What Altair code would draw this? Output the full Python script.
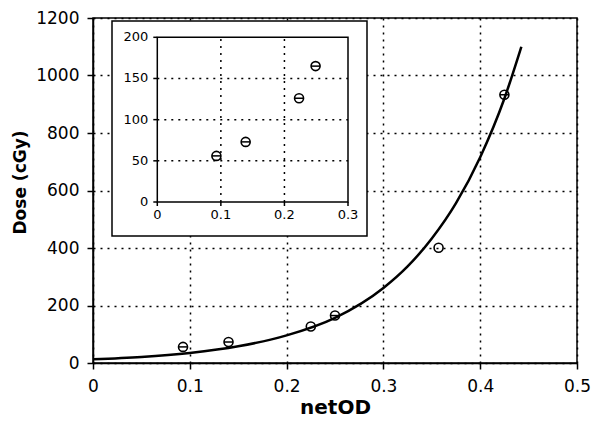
import altair as alt
import pandas as pd

# ---- data ----
net_od = [0.093, 0.140, 0.225, 0.250, 0.357, 0.425]
dose = [56, 73, 127, 165, 401, 933]
has_bar = [1, 1, 0, 1, 0, 1]

fit_od = [0.0, 0.05, 0.10, 0.15, 0.20, 0.25, 0.30, 0.325, 0.35, 0.375, 0.40, 0.425, 0.4425]
fit_dose = [13, 21, 35, 58, 96, 157, 261, 336, 433, 556, 716, 920, 1100]

inset_od = [0.093, 0.139, 0.223, 0.249]
inset_dose = [56, 73, 126, 165]

main_x_ticks = [0, 0.1, 0.2, 0.3, 0.4, 0.5]
main_y_ticks = [0, 200, 400, 600, 800, 1000, 1200]
inset_x_ticks = [0, 0.1, 0.2, 0.3]
inset_y_ticks = [0, 50, 100, 150, 200]

FONT = "DejaVu Sans"

pts_df = pd.DataFrame({"od": net_od, "dose": dose, "bar": has_bar})
fit_df = pd.DataFrame({"od": fit_od, "dose": fit_dose})
ins_df = pd.DataFrame({"iod": inset_od, "idose": inset_dose})
ixt_df = pd.DataFrame({"v": inset_x_ticks})
iyt_df = pd.DataFrame({"v": inset_y_ticks})
ixg_df = pd.DataFrame({"v": inset_x_ticks[1:-1]})
iyg_df = pd.DataFrame({"v": inset_y_ticks[1:-1]})
one_df = pd.DataFrame({"k": [0]})

# ---- main panel ----
x_scale = alt.Scale(domain=[main_x_ticks[0], main_x_ticks[-1]], nice=False, zero=False)
y_scale = alt.Scale(domain=[main_y_ticks[0], main_y_ticks[-1]], nice=False)

x_axis = alt.Axis(values=main_x_ticks, format=".1~f", title="netOD",
                  titleY=50, titleBaseline="alphabetic", titleFontSize=20,
                  labelPadding=9)
y_axis = alt.Axis(values=main_y_ticks, format="d", title="Dose (cGy)",
                  titleX=-64, titleY=164, titleAlign="center", titleFontSize=17,
                  labelPadding=8)

curve = alt.Chart(fit_df).mark_line(
    color="black", strokeWidth=2.5, interpolate="monotone"
).encode(
    x=alt.X("od:Q", scale=x_scale, axis=x_axis),
    y=alt.Y("dose:Q", scale=y_scale, axis=y_axis),
)

circles = alt.Chart(pts_df).mark_point(
    shape="circle", size=81, color="black", strokeWidth=1.6, filled=False, opacity=1
).encode(x="od:Q", y="dose:Q")

bars = alt.Chart(pts_df).transform_filter("datum.bar == 1").mark_point(
    shape="M-1,0L1,0", size=81, color="black", strokeWidth=1.5, filled=False, opacity=1
).encode(x="od:Q", y="dose:Q")

main = alt.layer(curve, circles, bars)

# ---- inset panel (own scales placed inside the plot area) ----
ix = alt.Scale(domain=[inset_x_ticks[0], inset_x_ticks[-1]], range=[64.3, 255], nice=False, zero=False)
iy = alt.Scale(domain=[inset_y_ticks[0], inset_y_ticks[-1]], range=[184, 19.3], nice=False)

box = alt.Chart(one_df).mark_rect(fill="white", stroke="black", strokeWidth=1.5).encode(
    x=alt.value(19), x2=alt.value(274), y=alt.value(3), y2=alt.value(218)
)

X0 = alt.XDatum(inset_x_ticks[0], scale=ix, axis=None)
X1 = alt.X2Datum(inset_x_ticks[-1])
Y0 = alt.YDatum(inset_y_ticks[0], scale=iy, axis=None)
Y1 = alt.Y2Datum(inset_y_ticks[-1])

vgrid = alt.Chart(ixg_df).mark_rule(color="black", strokeWidth=1.5, strokeDash=[2, 5]).encode(
    x=alt.X("v:Q", scale=ix, axis=None), y=Y0, y2=Y1
)
hgrid = alt.Chart(iyg_df).mark_rule(color="black", strokeWidth=1.5, strokeDash=[2, 5]).encode(
    y=alt.Y("v:Q", scale=iy, axis=None), x=X0, x2=X1
)
frame = alt.Chart(one_df).mark_rect(fill="transparent", stroke="black", strokeWidth=1.5).encode(
    x=X0, x2=X1, y=Y0, y2=Y1
)
xticks = alt.Chart(ixt_df).mark_rule(color="black", strokeWidth=1.5, y2Offset=4).encode(
    x=alt.X("v:Q", scale=ix, axis=None), y=Y0, y2=alt.Y2Datum(inset_y_ticks[0])
)
yticks = alt.Chart(iyt_df).mark_rule(color="black", strokeWidth=1.5, x2Offset=-4).encode(
    y=alt.Y("v:Q", scale=iy, axis=None), x=X0, x2=alt.X2Datum(inset_x_ticks[0])
)
xlabels = alt.Chart(ixt_df).mark_text(
    baseline="top", yOffset=7, fontSize=13, font=FONT, color="black"
).encode(x=alt.X("v:Q", scale=ix, axis=None), y=Y0, text=alt.Text("v:Q", format=".1~f"))
ylabels = alt.Chart(iyt_df).mark_text(
    align="right", baseline="middle", xOffset=-9, fontSize=13, font=FONT, color="black"
).encode(y=alt.Y("v:Q", scale=iy, axis=None), x=X0, text=alt.Text("v:Q", format="d"))

ipts = alt.Chart(ins_df).mark_point(
    shape="circle", size=81, color="black", strokeWidth=1.6, filled=False, opacity=1
).encode(x=alt.X("iod:Q", scale=ix, axis=None), y=alt.Y("idose:Q", scale=iy, axis=None))
ibars = alt.Chart(ins_df).mark_point(
    shape="M-1,0L1,0", size=81, color="black", strokeWidth=1.5, filled=False, opacity=1
).encode(x=alt.X("iod:Q", scale=ix, axis=None), y=alt.Y("idose:Q", scale=iy, axis=None))

inset = alt.layer(box, vgrid, hgrid, frame, xticks, yticks, xlabels, ylabels, ipts, ibars)

chart = alt.layer(main, inset).resolve_scale(
    x="independent", y="independent"
).properties(
    width=484, height=345,
    autosize=alt.AutoSizeParams(type="none"),
    padding={"left": 85, "top": 10, "right": 15, "bottom": 54},
    background="white",
).configure_view(
    stroke="black", strokeWidth=1.5
).configure_axis(
    domainColor="black", domainWidth=1.5,
    tickColor="black", tickWidth=1.5, tickSize=6,
    labelFont=FONT, labelFontSize=17, labelColor="black",
    labelFlush=False, labelOverlap=False,
    titleFont=FONT, titleFontWeight="bold", titleColor="black",
    grid=True, gridColor="black", gridDash=[2, 5], gridWidth=1.5, gridOpacity=1,
)

chart.save("out.html", embed_options={"renderer": "svg", "actions": False})
